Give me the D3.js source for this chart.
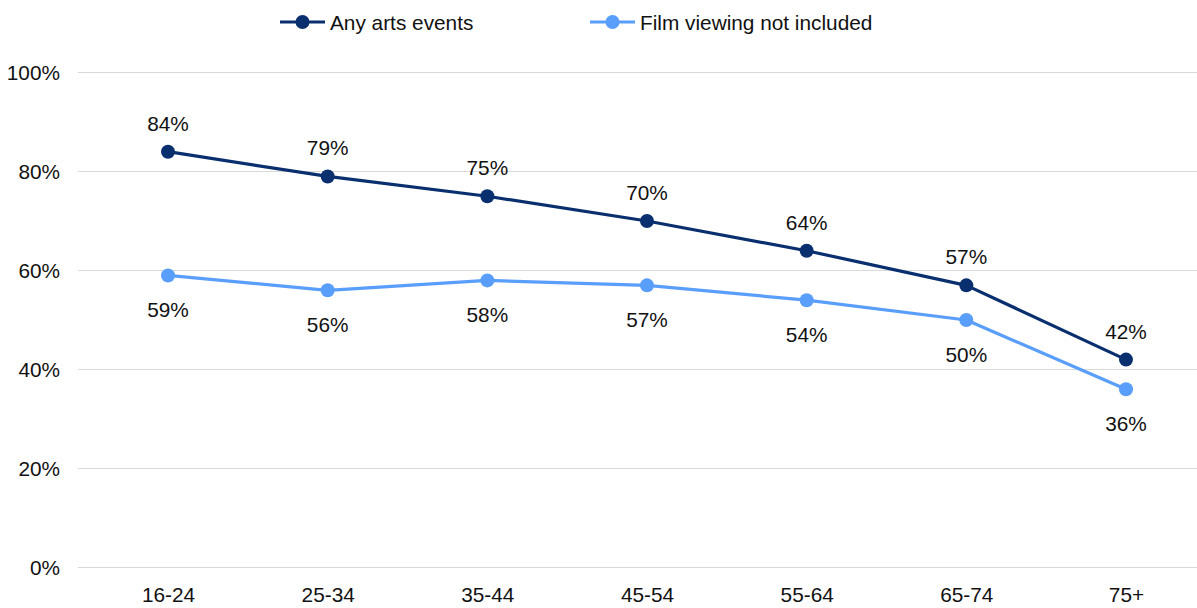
<!DOCTYPE html>
<html>
<head>
<meta charset="utf-8">
<script src="https://cdn.jsdelivr.net/npm/d3@7"></script>
<style>
  html, body { margin: 0; padding: 0; background: #fff; }
  svg { display: block; font-family: "Liberation Sans", Arial, sans-serif; }
</style>
</head>
<body>
<svg id="chart" width="1197" height="608"></svg>
<script>
// Age groups along the x axis
const ageGroups = ["16-24", "25-34", "35-44", "45-54", "55-64", "65-74", "75+"];
// Share attending any arts event, by age group (%)
const anyArts = [84, 79, 75, 70, 64, 57, 42];
// Same measure with film viewing excluded (%)
const noFilm = [59, 56, 58, 57, 54, 50, 36];
// Y axis ticks (%)
const yTicks = [0, 20, 40, 60, 80, 100];
const seriesNames = ["Any arts events", "Film viewing not included"];

const colors = ["#0A2F6E", "#5A9EFB"];
const series = [anyArts, noFilm];
const fontSize = 20.8;

const svg = d3.select("#chart");
const gridLeft = 78, gridRight = 1197;

const x = d3.scalePoint().domain(ageGroups).range([168, 1126]);
const y = d3.scaleLinear().domain([0, 100]).range([567.5, 72.5]);

// Gridlines
svg.append("g")
  .selectAll("line")
  .data(yTicks)
  .join("line")
  .attr("x1", gridLeft).attr("x2", gridRight)
  .attr("y1", d => y(d)).attr("y2", d => y(d))
  .attr("stroke", "#D9D9D9").attr("stroke-width", 1.2);

// Y axis labels
const yAxis = d3.axisLeft(y).tickValues(yTicks).tickFormat(d => d + "%").tickSize(0).tickPadding(0);
svg.append("g")
  .attr("transform", "translate(60,0)")
  .call(yAxis)
  .call(g => g.select(".domain").remove())
  .call(g => g.selectAll("text")
    .attr("font-size", fontSize).attr("fill", "#111")
    .attr("font-family", "Liberation Sans, Arial, sans-serif"));

// X axis labels
const xAxis = d3.axisBottom(x).tickSize(0).tickPadding(0);
svg.append("g")
  .attr("transform", "translate(0,587)")
  .call(xAxis)
  .call(g => g.select(".domain").remove())
  .call(g => g.selectAll("text")
    .attr("font-size", fontSize).attr("fill", "#111")
    .attr("font-family", "Liberation Sans, Arial, sans-serif"));

const line = d3.line().x((d, i) => x(ageGroups[i])).y(d => y(d));

series.forEach((vals, si) => {
  const g = svg.append("g");
  g.append("path")
    .datum(vals)
    .attr("d", line)
    .attr("fill", "none")
    .attr("stroke", colors[si])
    .attr("stroke-width", 3.2)
    .attr("stroke-linejoin", "round");
  g.selectAll("circle")
    .data(vals)
    .join("circle")
    .attr("cx", (d, i) => x(ageGroups[i]))
    .attr("cy", d => y(d))
    .attr("r", 7)
    .attr("fill", colors[si]);
  // Value labels: above for the first series, below for the second
  g.selectAll("text")
    .data(vals)
    .join("text")
    .attr("x", (d, i) => x(ageGroups[i]))
    .attr("y", d => si === 0 ? y(d) - 21 : y(d) + 42)
    .attr("text-anchor", "middle")
    .attr("font-size", fontSize)
    .attr("fill", "#111")
    .text(d => d + "%");
});

// Legend
const legendItems = [
  { name: seriesNames[0], color: colors[0], x0: 280 },
  { name: seriesNames[1], color: colors[1], x0: 590 }
];
const lg = svg.append("g");
legendItems.forEach(it => {
  lg.append("line")
    .attr("x1", it.x0).attr("x2", it.x0 + 45)
    .attr("y1", 22).attr("y2", 22)
    .attr("stroke", it.color).attr("stroke-width", 3.2);
  lg.append("circle")
    .attr("cx", it.x0 + 22.5).attr("cy", 22).attr("r", 7)
    .attr("fill", it.color);
  lg.append("text")
    .attr("x", it.x0 + 50).attr("y", 29.5)
    .attr("font-size", fontSize).attr("fill", "#111")
    .text(it.name);
});
</script>
</body>
</html>
